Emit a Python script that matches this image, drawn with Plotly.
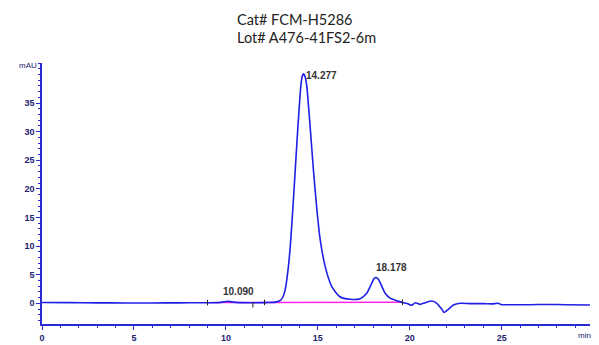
import plotly.graph_objects as go

# Chromatogram trace (time in min, signal in mAU)
time_min = [0.0, 1.5, 3.0, 4.5, 6.0, 7.5, 8.5, 9.0, 9.6, 9.9, 10.09, 10.3, 10.7, 11.4, 12.2,
            12.7, 12.96, 13.1, 13.22, 13.36, 13.5, 13.67, 13.86, 14.04, 14.13, 14.22, 14.31,
            14.4, 14.58, 14.76, 14.95, 15.13, 15.4, 15.76, 16.2, 16.76, 17.3, 17.66, 17.93,
            18.05, 18.17, 18.29, 18.39, 18.66, 18.93, 19.3, 19.6, 19.9, 20.1, 20.3, 20.56,
            20.83, 21.2, 21.47, 21.74, 21.86, 22.1, 22.37, 22.73, 23.3, 24.0, 24.5, 24.8,
            25.0, 25.5, 26.5, 27.5, 28.5, 29.8]
signal_mau = [0.15, 0.12, 0.08, 0.05, 0.05, 0.08, 0.1, 0.1, 0.12, 0.25, 0.35, 0.25, 0.12, 0.1, 0.12,
              0.2, 0.5, 1.1, 2.3, 5.3, 9.9, 18.0, 28.0, 36.7, 39.4, 40.1, 39.6,
              37.9, 30.9, 23.3, 16.3, 11.1, 6.4, 2.9, 1.15, 0.7, 0.8, 1.75, 3.5,
              4.3, 4.5, 4.2, 3.6, 1.75, 0.9, 0.45, 0.15, -0.1, -0.35, 0.1, -0.2,
              0.1, 0.4, 0.0, -1.05, -1.6, -1.05, -0.3, 0.0, -0.05, -0.05, -0.1, 0.0,
              -0.25, -0.25, -0.25, -0.2, -0.25, -0.3]

# Integration baseline (magenta)
baseline_t = [9.0, 19.6]
baseline_v = [0.12, 0.18]

# Integration event markers
event_t = [9.0, 11.47, 12.1, 19.6]
event_v = [0.12, -0.25, 0.15, 0.18]

# Peak labels
peak_t = [10.090, 14.277, 18.178]
peak_h = [0.35, 40.1, 4.5]
peak_labels = ["10.090", "14.277", "18.178"]

title_lines = ["Cat# FCM-H5286", "Lot# A476-41FS2-6m"]

x_ticks = [0, 5, 10, 15, 20, 25]
y_ticks = [0, 5, 10, 15, 20, 25, 30, 35]

axis_color = "#2a2ad0"
label_color = "#22226e"

fig = go.Figure()
fig.add_trace(go.Scatter(x=baseline_t, y=baseline_v, mode="lines",
                         line=dict(color="#ff22ee", width=1.3), hoverinfo="skip"))
fig.add_trace(go.Scatter(x=time_min, y=signal_mau, mode="lines",
                         line=dict(color="#1f1fe8", width=1.6, shape="spline", smoothing=0.6)))
fig.add_trace(go.Scatter(x=event_t, y=event_v, mode="markers",
                         marker=dict(symbol="line-ns-open", size=4, color="#222222",
                                     line=dict(width=1, color="#222222"))))

# Peak annotations
fig.add_annotation(x=peak_t[0], y=peak_h[0], text=peak_labels[0], showarrow=False,
                   xanchor="center", yanchor="bottom", yshift=2, xshift=11,
                   font=dict(family="Liberation Sans", size=10, color="#333333", weight="bold"))
fig.add_annotation(x=peak_t[1], y=peak_h[1], text=peak_labels[1], showarrow=False,
                   xanchor="left", yanchor="middle", xshift=-1, yshift=-2,
                   font=dict(family="Liberation Sans", size=10, color="#333333", weight="bold"))
fig.add_annotation(x=peak_t[2], y=peak_h[2], text=peak_labels[2], showarrow=False,
                   xanchor="left", yanchor="bottom", xshift=-2, yshift=3,
                   font=dict(family="Liberation Sans", size=10, color="#333333", weight="bold"))

# Title lines
for i, line in enumerate(title_lines):
    fig.add_annotation(xref="paper", yref="paper", x=(235 - 42) / 548, y=1 + (63 - (20 + 17 * i)) / 261,
                       text=line, showarrow=False, xanchor="left", yanchor="middle",
                       font=dict(family="Lato", size=14.5, color="#222222"))

# Axis unit labels
fig.add_annotation(xref="paper", yref="paper", x=-0.005, y=1.0, text="mAU", showarrow=False,
                   xanchor="right", yanchor="middle", yshift=-2,
                   font=dict(family="Liberation Sans", size=8, color=label_color))
fig.add_annotation(xref="paper", yref="paper", x=0.99, y=0, text="min", showarrow=False,
                   xanchor="center", yanchor="top", yshift=-5,
                   font=dict(family="Liberation Sans", size=8, color=label_color))

fig.update_layout(
    width=599, height=345,
    margin=dict(l=42, r=9, t=63, b=21),
    paper_bgcolor="white", plot_bgcolor="white",
    showlegend=False,
)
fig.update_xaxes(range=[0, 29.8], tickvals=x_ticks, showgrid=False, zeroline=False,
                 automargin=False,
                 showline=True, linecolor=axis_color, linewidth=1.5,
                 ticks="outside", ticklen=4, tickwidth=1.2, tickcolor=axis_color,
                 minor=dict(dtick=1, ticks="outside", ticklen=2, tickcolor=axis_color, showgrid=False),
                 tickfont=dict(family="Liberation Sans", size=9, color=label_color, weight="bold"))
fig.update_yaxes(range=[-3.62, 42.0], tickvals=y_ticks, showgrid=False, zeroline=False,
                 automargin=False,
                 showline=True, linecolor=axis_color, linewidth=1.5,
                 ticks="outside", ticklen=4, tickwidth=1.2, tickcolor=axis_color,
                 minor=dict(dtick=1, ticks="outside", ticklen=2, tickcolor=axis_color, showgrid=False),
                 tickfont=dict(family="Liberation Sans", size=9, color=label_color, weight="bold"))

fig.write_html("out.html")
